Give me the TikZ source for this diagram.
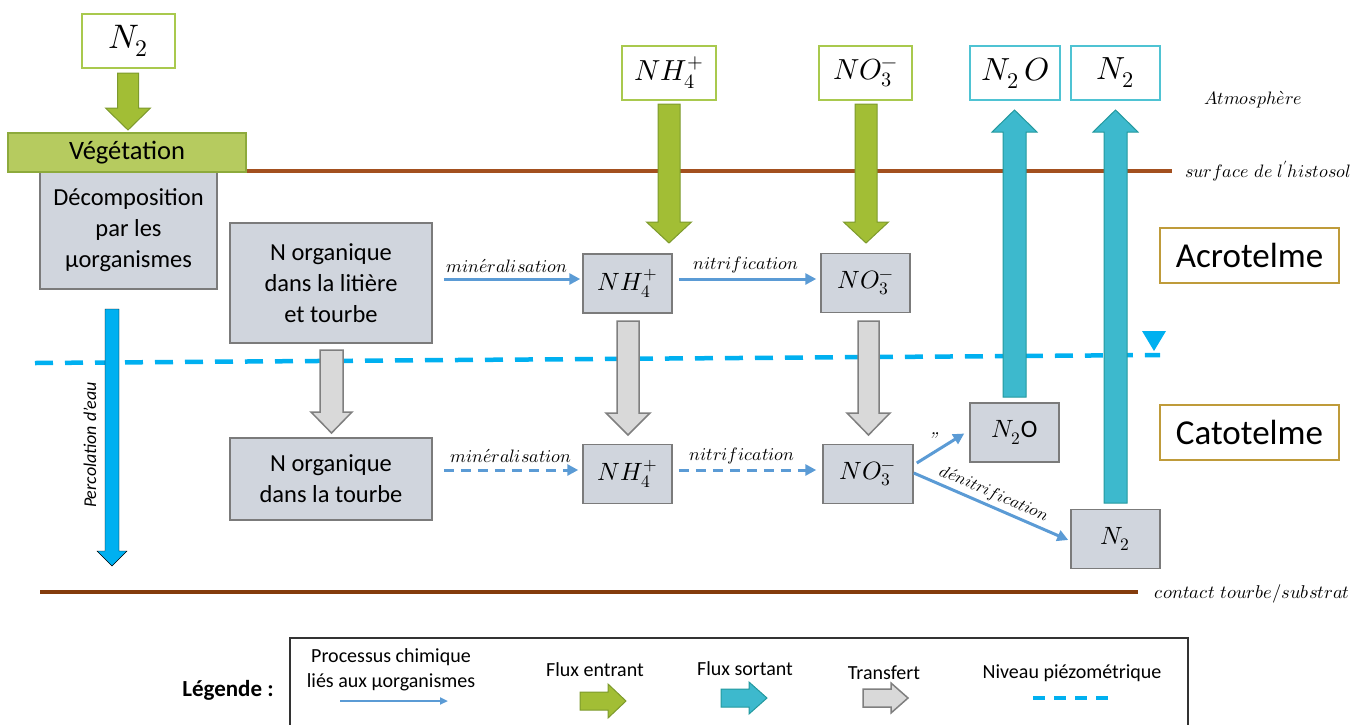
\documentclass[tikz,border=0pt]{standalone}
\usepackage{fontspec}
\usepackage{unicode-math}
\setmathfont{Latin Modern Math}
\setsansfont{Carlito}
\usetikzlibrary{arrows.meta,calc}
\definecolor{boxfill}{HTML}{D0D5DD}
\definecolor{boxline}{HTML}{7B7B7B}
\definecolor{gline}{HTML}{A9C94E}
\definecolor{vegfill}{HTML}{B6CB5F}
\definecolor{vegline}{HTML}{8DAA3C}
\definecolor{garrow}{HTML}{A2BE35}
\definecolor{garrowline}{HTML}{7D9A2C}
\definecolor{carrow}{HTML}{3DB9CD}
\definecolor{carrowline}{HTML}{23999E}
\definecolor{cline}{HTML}{4FC3D3}
\definecolor{tarrow}{HTML}{D9D9D9}
\definecolor{tline}{HTML}{7F7F7F}
\definecolor{procblue}{HTML}{5B9BD5}
\definecolor{water}{HTML}{00B0F0}
\definecolor{brownA}{HTML}{A3501F}
\definecolor{brownB}{HTML}{843C0C}
\definecolor{goldline}{HTML}{BF9B3A}
% #1 style, #2 cx, #3 tail y, #4 tip y, #5 half shaft, #6 head base y, #7 half head
\newcommand{\vbarrow}[7]{\draw[#1] (#2-#5,#3) -- (#2+#5,#3) -- (#2+#5,#6) -- (#2+#7,#6) -- (#2,#4) -- (#2-#7,#6) -- (#2-#5,#6) -- cycle;}
% #1 style, #2 cy, #3 tail x, #4 tip x, #5 half shaft, #6 head base x, #7 half head
\newcommand{\hbarrow}[7]{\draw[#1] (#3,#2-#5) -- (#3,#2+#5) -- (#6,#2+#5) -- (#6,#2+#7) -- (#4,#2) -- (#6,#2-#7) -- (#6,#2-#5) -- cycle;}
\tikzset{
  graybox/.style={draw=boxline, fill=boxfill, line width=1.5pt, inner sep=0pt, align=center,
    font=\sffamily\fontsize{24.5}{31}\selectfont},
  chembox/.style={graybox, minimum width=89pt, minimum height=59pt, font=\fontsize{25}{30}\selectfont},
  topbox/.style={draw=gline, fill=white, line width=2pt, inner sep=0pt, minimum width=93pt, minimum height=54pt,
    font=\fontsize{29}{34}\selectfont},
  cyanbox/.style={topbox, draw=cline},
  zonebox/.style={draw=goldline, fill=white, line width=1.5pt, minimum width=179pt, minimum height=55pt,
    font=\sffamily\fontsize{35}{40}\selectfont},
  greenarrow/.style={fill=garrow, draw=garrowline, line width=1pt},
  cyanarrow/.style={fill=carrow, draw=carrowline, line width=1pt},
  grayarrow/.style={fill=tarrow, draw=tline, line width=1.5pt},
  procarrow/.style={draw=procblue, line width=3pt, -{Triangle[length=11pt,width=11pt]}},
  procdash/.style={procarrow, dash pattern=on 10pt off 7pt},
  watertable/.style={draw=water, line width=4.5pt, dash pattern=on 18pt off 12pt},
  smalllabel/.style={font=\fontsize{18}{21}\selectfont, inner sep=0pt},
  legtext/.style={font=\sffamily\fontsize{20}{25}\selectfont, align=center, inner sep=0pt}
}
\begin{document}
\begin{tikzpicture}[x=1pt,y=-1pt]
\useasboundingbox (0,0) rectangle (1368,724);
% soil lines
\draw[brownA, line width=3.5pt] (246,171) -- (1172,171);
\draw[brownB, line width=3.5pt] (40,592) -- (1138,592);
% water table
\draw[watertable] (35,363) -- (1160,355);
\fill[water] (1142,331) -- (1166,331) -- (1154,351) -- cycle;
% left column
\node[graybox, minimum width=177pt, minimum height=117pt] (decomp) at (128.5,230.5)
  {Décomposition\\par les\\µorganismes};
\node[draw=vegline, fill=vegfill, line width=1.5pt, minimum width=238pt, minimum height=39pt, inner sep=0pt,
  font=\sffamily\fontsize{26.5}{30}\selectfont] (veg) at (127,152.5) {Végétation};
\node[topbox, font=\fontsize{34}{38}\selectfont] (n2atm) at (128.5,41) {$N_2$};
\vbarrow{greenarrow}{128}{73}{130}{10.5}{108}{22.5}
% percolation
\vbarrow{fill=water}{112}{309}{566}{7}{551}{15}
\node[rotate=90, font=\sffamily\itshape\fontsize{18}{22}\selectfont, inner sep=0pt] (perco) at (90,445) {Percolation d’eau};
% organic N boxes
\node[graybox, minimum width=202pt, minimum height=120pt] (norg1) at (331,283) {N organique\\dans la litière\\et tourbe};
\node[graybox, minimum width=202pt, minimum height=82pt] (norg2) at (331,479) {N organique\\dans la tourbe};
\vbarrow{grayarrow}{331.5}{350}{433}{11.5}{412}{20.5}
% chemical boxes
\node[chembox] (nh4a) at (627.5,283.5) {$NH_4^+$};
\node[chembox] (no3a) at (865.5,283) {$NO_3^-$};
\node[chembox] (nh4b) at (627.5,474) {$NH_4^+$};
\node[chembox, minimum width=90pt] (no3b) at (868,474) {$NO_3^-$};
\node[chembox] (n2ob) at (1014.5,432.5) {$N_2$\textsf{O}};
\node[chembox] (n2b) at (1115.5,539) {$N_2$};
% atmosphere boxes
\node[topbox, minimum width=94pt] (nh4atm) at (669,73) {$NH_4^+$};
\node[topbox] (no3atm) at (865.5,73) {$NO_3^-$};
\node[cyanbox, minimum width=90pt, font=\fontsize{32}{36}\selectfont] (n2oatm) at (1015,73) {$N_2\,O$};
\node[cyanbox, minimum width=89pt, font=\fontsize{32}{36}\selectfont] (n2atm2) at (1115.5,73) {$N_2$};
% incoming / outgoing fluxes
\vbarrow{greenarrow}{669}{104}{243}{11}{222}{22.5}
\vbarrow{greenarrow}{866}{104}{243}{11}{222}{22.5}
\vbarrow{cyanarrow}{1014.5}{397}{110}{11.5}{132}{22.5}
\vbarrow{cyanarrow}{1115.5}{503}{110}{11.5}{132}{22.5}
% transfers
\vbarrow{grayarrow}{628}{321}{435}{11}{413}{22}
\vbarrow{grayarrow}{868.5}{321}{435}{10.5}{413}{21.5}
% processes
\draw[procarrow] ($(norg1.east)+(11,-4)$) -- ($(nh4a.west)+(-2,-4.5)$);
\draw[procarrow] ($(nh4a.east)+(6,-4.5)$) -- ($(no3a.west)+(-4,-4)$);
\draw[procdash] ($(norg2.east)+(11,-9)$) -- ($(nh4b.west)+(-4,-4)$);
\draw[procdash] ($(nh4b.east)+(6,-4)$) -- ($(no3b.west)+(-6,-4)$);
\node[smalllabel] (lmin1) at (507,266) {$min\acute{e}ralisation$};
\node[smalllabel] (lnit1) at (746,265) {$nitrification$};
\node[smalllabel] (lmin2) at (511,456) {$min\acute{e}ralisation$};
\node[smalllabel] (lnit2) at (742,456) {$nitrification$};
\draw[procarrow] ($(no3b.east)+(3,-11)$) -- ($(n2ob.west)+(-5,1)$);
\draw[procarrow] ($(no3b.east)+(0,-1)$) -- ($(n2b.west)+(-2,1)$);
\node[font=\itshape\fontsize{20}{22}\selectfont, inner sep=0pt] (tick) at (932,440) {''};
\node[smalllabel, font=\fontsize{17}{20}\selectfont, rotate=-23.4] (ldenit) at (994,494) {$d\acute{e}nitrification$};
% zones
\node[zonebox] (acro) at (1249.5,255.5) {Acrotelme};
\node[zonebox] (cato) at (1249.5,432.5) {Catotelme};
\node[smalllabel] (atmo) at (1253,100) {$Atmosph\grave{e}re$};
\node[smalllabel] (surf) at (1268,171) {$surface\ de\ l'histosol$};
\node[smalllabel, font=\fontsize{18.5}{21}\selectfont] (contact) at (1252,594) {$contact\ tourbe/substrat$};
% legend
\draw[draw=black!80, line width=1.2pt] (290,638) rectangle (1188,735);
\node[font=\sffamily\bfseries\fontsize{23}{26}\selectfont, inner sep=0pt] (legtitle) at (228,690) {Légende :};
\node[legtext] (lproc) at (391,670) {Processus chimique\\liés aux µorganismes};
\draw[draw=procblue, line width=2pt, -{Triangle[length=8pt,width=7pt]}] (340,701) -- (448,701);
\node[legtext] (lin) at (595,670) {Flux entrant};
\hbarrow{greenarrow}{701}{580}{626}{9}{608}{17}
\node[legtext] (lout) at (745,669) {Flux sortant};
\hbarrow{cyanarrow}{698}{721}{767}{9}{749}{16}
\node[legtext] (ltr) at (884,673) {Transfert};
\hbarrow{grayarrow}{698}{863}{908}{9}{891}{15}
\node[legtext] (lwt) at (1072,673) {Niveau piézométrique};
\draw[draw=water, line width=4pt, dash pattern=on 12pt off 9pt] (1033,698) -- (1114,698);
\end{tikzpicture}
\end{document}
